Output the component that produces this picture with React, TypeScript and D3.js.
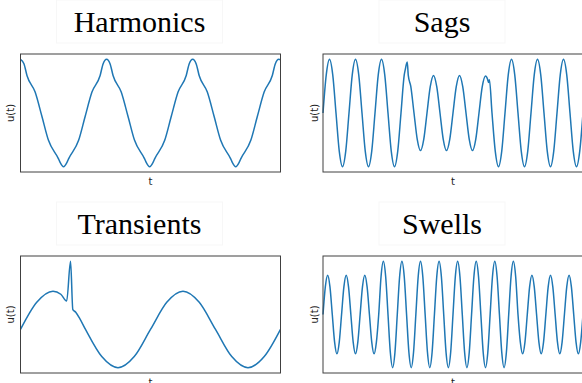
import React from 'react';
import * as d3 from 'd3';

type Pt = [number, number];

// t in ms, u(t) in per-unit of the nominal peak
const harmonics: Pt[] = [
  [0, 1], [0.8, 0.92], [1.5, 0.7], [3.4, 0.39], [5, -0.07], [6.5, -0.51], [8.8, -0.85], [9.2, -0.92], [10, -1],
  [10.8, -0.92], [11.2, -0.85], [13.5, -0.51], [15, -0.07], [16.6, 0.39], [18.5, 0.7], [19.2, 0.92],
  [20, 1], [20.8, 0.92], [21.5, 0.7], [23.4, 0.39], [25, -0.07], [26.5, -0.51], [28.8, -0.85], [29.2, -0.92], [30, -1],
  [30.8, -0.92], [31.2, -0.85], [33.5, -0.51], [35, -0.07], [36.6, 0.39], [38.5, 0.7], [39.2, 0.92],
  [40, 1], [40.8, 0.92], [41.5, 0.7], [43.4, 0.39], [45, -0.07], [46.5, -0.51], [48.8, -0.85], [49.2, -0.92], [50, -1],
  [50.8, -0.92], [51.2, -0.85], [53.5, -0.51], [55, -0.07], [56.6, 0.39], [58.5, 0.7], [59.2, 0.92],
  [60, 1], [60.4, 0.99],
];

const sags: Pt[] = [
  [0, 0], [2.5, 0.71], [5, 1], [7.5, 0.71], [10, 0], [12.5, -0.71], [15, -1], [17.5, -0.71],
  [20, 0], [22.5, 0.71], [25, 1], [27.5, 0.71], [30, 0], [32.5, -0.71], [35, -1], [37.5, -0.71],
  [40, 0], [42.5, 0.71], [45, 1], [47.5, 0.71], [50, 0], [52.5, -0.71], [55, -1], [57.5, -0.71],
  [60, 0], [62.5, 0.71], [63.2, 0.8], [64.8, 0.95], [65.6, 0.7], [67.5, 0.5], [70, 0], [72.5, -0.49], [75, -0.7], [77.5, -0.49],
  [80, 0], [82.5, 0.49], [85, 0.7], [87.5, 0.49], [90, 0], [92.5, -0.49], [95, -0.7], [97.5, -0.49],
  [100, 0], [102.5, 0.49], [105, 0.7], [107.5, 0.49], [110, 0], [112.5, -0.49], [115, -0.7], [117.5, -0.49],
  [120, 0], [122.5, 0.49], [125, 0.69], [126.6, 0.63], [127.3, 0.57], [128, 0.62], [130, 0], [132.5, -0.71], [135, -1], [137.5, -0.71],
  [140, 0], [142.5, 0.71], [145, 1], [147.5, 0.71], [150, 0], [152.5, -0.71], [155, -1], [157.5, -0.71],
  [160, 0], [162.5, 0.71], [165, 1], [167.5, 0.71], [170, 0], [172.5, -0.71], [175, -1], [177.5, -0.71],
  [180, 0], [182.5, 0.71], [185, 1], [187.5, 0.71], [190, 0], [192.5, -0.71], [195, -1], [197.5, -0.71],
  [200, 0],
];

const transients: Pt[] = [
  [0, 0], [2.5, 0.71], [5, 1], [6.2, 0.92], [7.1, 0.74], [7.7, 1.78], [8.05, 0.52], [8.5, 0.45], [9.1, 0.29],
  [10, 0], [12.5, -0.71], [15, -1], [17.5, -0.71],
  [20, 0], [22.5, 0.71], [25, 1], [27.5, 0.71], [30, 0], [32.5, -0.71], [35, -1], [37.5, -0.71],
  [40, 0],
];

const swells: Pt[] = [
  [0, 0], [2.5, 0.52], [5, 0.74], [7.5, 0.52], [10, 0], [12.5, -0.52], [15, -0.74], [17.5, -0.52],
  [20, 0], [22.5, 0.52], [25, 0.74], [27.5, 0.52], [30, 0], [32.5, -0.52], [35, -0.74], [37.5, -0.52],
  [40, 0], [42.5, 0.52], [45, 0.74], [47.5, 0.52], [50, 0], [52.5, -0.52], [55, -0.74], [57.5, -0.52],
  [60, 0], [62.5, 0.71], [65, 1], [67.5, 0.71], [70, 0], [72.5, -0.71], [75, -1], [77.5, -0.71],
  [80, 0], [82.5, 0.71], [85, 1], [87.5, 0.71], [90, 0], [92.5, -0.71], [95, -1], [97.5, -0.71],
  [100, 0], [102.5, 0.71], [105, 1], [107.5, 0.71], [110, 0], [112.5, -0.71], [115, -1], [117.5, -0.71],
  [120, 0], [122.5, 0.71], [125, 1], [127.5, 0.71], [130, 0], [132.5, -0.71], [135, -1], [137.5, -0.71],
  [140, 0], [142.5, 0.71], [145, 1], [147.5, 0.71], [150, 0], [152.5, -0.71], [155, -1], [157.5, -0.71],
  [160, 0], [162.5, 0.71], [165, 1], [167.5, 0.71], [170, 0], [172.5, -0.71], [175, -1], [177.5, -0.71],
  [180, 0], [182.5, 0.71], [185, 1], [187.5, 0.71], [190, 0], [192.5, -0.71], [195, -1], [197.5, -0.71],
  [200, 0], [202.5, 0.71], [205, 1], [207.5, 0.71], [210, 0], [212.5, -0.52], [215, -0.74], [217.5, -0.52],
  [220, 0], [222.5, 0.52], [225, 0.74], [227.5, 0.52], [230, 0], [232.5, -0.52], [235, -0.74], [237.5, -0.52],
  [240, 0], [242.5, 0.52], [245, 0.74], [247.5, 0.52], [250, 0], [252.5, -0.52], [255, -0.74], [257.5, -0.52],
  [260, 0], [262.5, 0.52], [265, 0.74], [267.5, 0.52], [270, 0], [272.5, -0.52], [275, -0.74], [277.5, -0.52],
  [280, 0],
];

const panels = [
  { title: 'Harmonics', data: harmonics, left: 20.5, top: 54, height: 118, labelGap: 10.5, boxW: 166 },
  { title: 'Sags', data: sags, left: 323, top: 54, height: 118, labelGap: 8.3, boxW: 126 },
  { title: 'Transients', data: transients, left: 20.5, top: 256, height: 117, labelGap: 10.5, boxW: 166 },
  { title: 'Swells', data: swells, left: 323, top: 256, height: 117, labelGap: 8.3, boxW: 126 },
];

const W = 260;
const serif = '"Times New Roman", Times, "Liberation Serif", "DejaVu Serif", "Noto Serif", serif';
const sans = '"DejaVu Sans", sans-serif';

function Panel({ title, data, left, top, height, labelGap, boxW }: any) {
  const x = d3.scaleLinear()
    .domain(d3.extent(data, (d: Pt) => d[0]) as [number, number])
    .range([left, left + W]);
  const [lo, hi] = d3.extent(data, (d: Pt) => d[1]) as [number, number];
  const pad = (hi - lo) * 0.05; // matplotlib default margin
  const y = d3.scaleLinear().domain([lo - pad, hi + pad]).range([top + height, top]);

  const line = d3.line<Pt>()
    .x(d => x(d[0]))
    .y(d => y(d[1]))
    .curve(d3.curveMonotoneX);

  const titleX = left + W / 2 - 11;

  return (
    <g>
      {/* faint frame left over around the title image */}
      <rect x={titleX - boxW / 2} y={top - 54} width={boxW} height={43}
        fill="#fff" stroke="#f7f7f7" strokeWidth={1} />
      <text x={titleX} y={top - 22} textAnchor="middle" fontFamily={serif} fontSize={30} fill="#000">
        {title}
      </text>
      <path d={line(data) || ''} fill="none" stroke="#1f77b4" strokeWidth={1.5} />
      <rect x={left} y={top} width={W} height={height} fill="none" stroke="#404040" strokeWidth={1} />
      <text transform={`translate(${left - labelGap},${top + height / 2}) rotate(-90)`}
        textAnchor="middle" dominantBaseline="central"
        fontFamily={sans} fontSize={10} fill="#222">
        u(t)
      </text>
      <text x={left + W / 2} y={top + height + 13} textAnchor="middle"
        fontFamily={sans} fontSize={10} fill="#222">
        t
      </text>
    </g>
  );
}

export default function App() {
  return (
    <svg width={582} height={383} style={{ position: 'absolute', left: 0, top: 0, background: '#fff' }}>
      {panels.map(p => <Panel key={p.title} {...p} />)}
    </svg>
  );
}
